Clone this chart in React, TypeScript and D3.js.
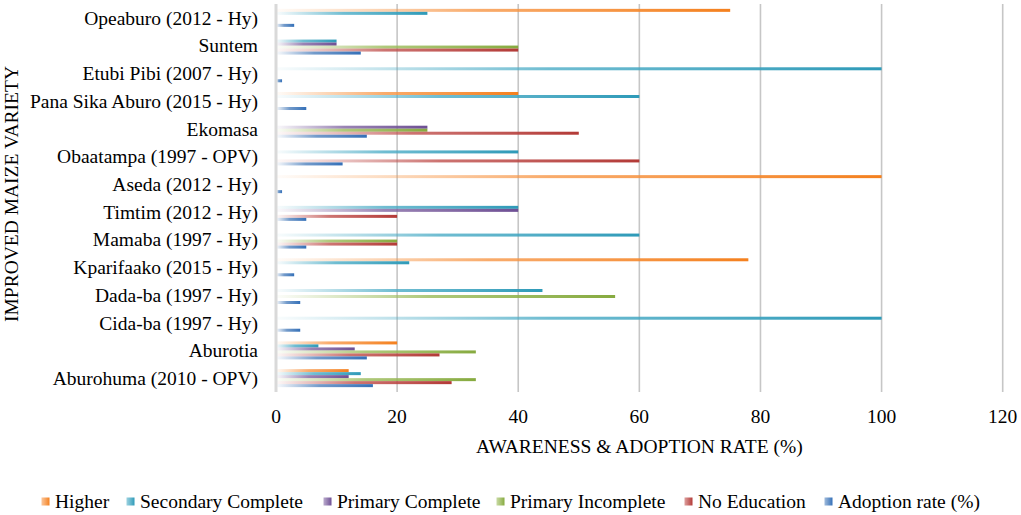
import React from "react";
import * as d3 from "d3";

const categories = [
  "Opeaburo (2012 - Hy)",
  "Suntem",
  "Etubi Pibi (2007 - Hy)",
  "Pana Sika Aburo (2015 - Hy)",
  "Ekomasa",
  "Obaatampa (1997 - OPV)",
  "Aseda (2012 - Hy)",
  "Timtim (2012 - Hy)",
  "Mamaba (1997 - Hy)",
  "Kparifaako (2015 - Hy)",
  "Dada-ba (1997 - Hy)",
  "Cida-ba (1997 - Hy)",
  "Aburotia",
  "Aburohuma (2010 - OPV)",
];

const seriesNames = [
  "Higher",
  "Secondary Complete",
  "Primary Complete",
  "Primary Incomplete",
  "No Education",
  "Adoption rate (%)",
];

const higher = [75, 0, 0, 40, 0, 0, 100, 0, 0, 78, 0, 0, 20, 12];
const secondaryComplete = [25, 10, 100, 60, 0, 40, 0, 40, 60, 22, 44, 100, 7, 14];
const primaryComplete = [0, 10, 0, 0, 25, 0, 0, 40, 0, 0, 0, 0, 13, 12];
const primaryIncomplete = [0, 40, 0, 0, 25, 0, 0, 0, 20, 0, 56, 0, 33, 33];
const noEducation = [0, 40, 0, 0, 50, 60, 0, 20, 20, 0, 0, 0, 27, 29];
const adoptionRate = [3, 14, 1, 5, 15, 11, 1, 5, 5, 3, 4, 4, 15, 16];

const xTicks = [0, 20, 40, 60, 80, 100, 120];

const colors = ["#F79646", "#4BACC6", "#8064A2", "#9BBB59", "#C0504D", "#4F81BD"];
const darkColors = ["#F4801E", "#2E9AB8", "#6E4F94", "#86AA3F", "#B33A37", "#3470B8"];

const legendX = [45, 130, 327, 500, 688, 828];

export default function App() {
  const W = 1021;
  const H = 515;
  const x0 = 276;
  const x1 = 1002.7;
  const top = 4;
  const bottom = 392;
  const fs = 19.5;
  const textStyle: React.CSSProperties = {
    fontFamily: "Liberation Serif",
    fontSize: fs,
  };

  const seriesValues = [higher, secondaryComplete, primaryComplete, primaryIncomplete, noEducation, adoptionRate];

  const x = d3.scaleLinear().domain([0, 120]).range([x0, x1]);
  const y = d3.scaleBand<string>().domain(categories).range([top, bottom]).paddingInner(0.35).paddingOuter(0.175);
  const inner = d3.scaleBand<string>().domain(seriesNames).range([0, y.bandwidth()]);

  return (
    <svg width={W} height={H} style={{ position: "absolute", left: 0, top: 0, background: "#fff" }}>
      <defs>
        {colors.map((c, i) => (
          <linearGradient key={i} id={`g${i}`} x1="0" y1="0" x2="1" y2="0">
            <stop offset="0" stopColor={c} stopOpacity={0.03} />
            <stop offset="0.45" stopColor={c} stopOpacity={0.8} />
            <stop offset="1" stopColor={darkColors[i]} stopOpacity={1} />
          </linearGradient>
        ))}
        {colors.map((c, i) => (
          <linearGradient key={"l" + i} id={`lg${i}`} x1="0" y1="0" x2="1" y2="0">
            <stop offset="0" stopColor={c} stopOpacity={0.55} />
            <stop offset="1" stopColor={darkColors[i]} stopOpacity={1} />
          </linearGradient>
        ))}
      </defs>
      {xTicks.filter((t) => t > 0).map((t) => (
        <line key={t} x1={x(t)} x2={x(t)} y1={top} y2={bottom} stroke="#c6c6c6" strokeWidth={1.6} />
      ))}
      {categories.map((cat, ci) => (
        <g key={cat}>
          {seriesValues.map((vals, si) => {
            const v = vals[ci];
            if (!v) return null;
            const yy = (y(cat) as number) + (inner(seriesNames[si]) as number);
            return (
              <rect
                key={si}
                x={x(0)}
                y={yy}
                width={x(v) - x(0)}
                height={inner.bandwidth()}
                fill={`url(#g${si})`}
              />
            );
          })}
        </g>
      ))}
      <line x1={x0} x2={x0} y1={top} y2={bottom} stroke="#d9d9d9" strokeWidth={3} />
      {categories.map((cat) => (
        <text
          key={cat}
          x={258}
          y={(y(cat) as number) + y.bandwidth() / 2 + 6.8}
          textAnchor="end"
          style={textStyle}
          fill="#000"
        >
          {cat}
        </text>
      ))}
      {xTicks.map((t) => (
        <text key={t} x={x(t)} y={423} textAnchor="middle" style={textStyle} fill="#000">
          {t}
        </text>
      ))}
      <text x={(x0 + x1) / 2} y={452.5} textAnchor="middle" style={textStyle} fill="#000">
        AWARENESS &amp; ADOPTION RATE (%)
      </text>
      <text
        transform={`translate(17.5, 194) rotate(-90)`}
        textAnchor="middle"
        style={textStyle}
        fill="#000"
      >
        IMPROVED MAIZE VARIETY
      </text>
      {seriesNames.map((s, i) => (
        <g key={s}>
          <rect x={legendX[i] - 3.5} y={497.5} width={8} height={8} fill={`url(#lg${i})`} />
          <text x={legendX[i] + 10} y={508} style={textStyle} fill="#000">
            {s}
          </text>
        </g>
      ))}
    </svg>
  );
}
